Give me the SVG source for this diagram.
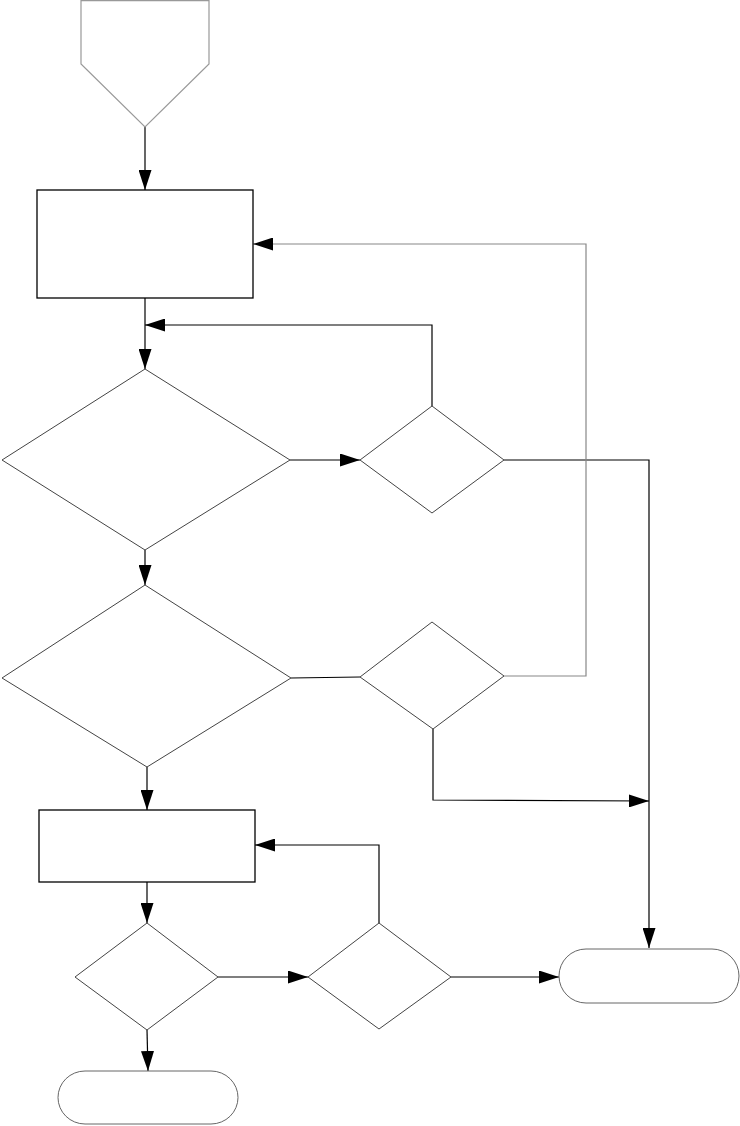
<svg xmlns="http://www.w3.org/2000/svg" width="740" height="1126" viewBox="0 0 740 1126">
<defs>
<marker id="ah" markerUnits="userSpaceOnUse" markerWidth="20" markerHeight="13" refX="20" refY="6.5" orient="auto">
<path d="M0,0 L20,6.5 L0,13 z" fill="#000"/>
</marker>
</defs>
<style>
.box{fill:#fff;stroke:#000;stroke-width:1.3}
.dia{fill:#fff;stroke:#444;stroke-width:1}
.term{fill:#fff;stroke:#666;stroke-width:1}
.pent{fill:#fff;stroke:#999;stroke-width:1.2}
.c{fill:none;stroke:#000;stroke-width:1.2}
.g{fill:none;stroke:#888;stroke-width:1.2}
.a{marker-end:url(#ah)}
</style>
<rect width="740" height="1126" fill="#fff"/>
<g id="connectors">
<path class="c a" d="M145,127 L145,190"/>
<path class="c a" d="M145,298 L145,369"/>
<path class="c a" d="M432,406 L432,325 L145,325"/>
<path class="c a" d="M290,460 L360,460"/>
<path class="c a" d="M504,460 L649,460 L649,948"/>
<path class="g a" d="M504,676 L586,676 L586,244 L253,244"/>
<path class="c a" d="M145,550 L145,585"/>
<path class="c" d="M291,678 L360,677"/>
<path class="c a" d="M433,729 L433,800 L649,801"/>
<path class="c a" d="M147,767 L147,810"/>
<path class="c a" d="M147,882 L147,923"/>
<path class="c a" d="M218,977 L308,977"/>
<path class="c a" d="M379,923 L379,845 L255,845"/>
<path class="c a" d="M451,977 L559,977"/>
<path class="c a" d="M147,1030 L148,1071"/>
</g>
<g id="start"><path class="pent" d="M81,0.6 L81,64 L145,127 L209,64 L209,0.6 z"/></g>
<g id="process1"><rect class="box" x="37" y="190" width="216" height="108"/></g>
<g id="decision1"><path class="dia" d="M145,369 L290,460 L145,550 L2,460 z"/></g>
<g id="decision2"><path class="dia" d="M432,406 L504,460 L432,513 L360,460 z"/></g>
<g id="decision3"><path class="dia" d="M145,585 L291,678 L147,767 L2,678 z"/></g>
<g id="decision4"><path class="dia" d="M432,622 L504,676 L433,729 L360,677 z"/></g>
<g id="process2"><rect class="box" x="39" y="810" width="216" height="72"/></g>
<g id="decision5"><path class="dia" d="M147,923 L218,977 L147,1030 L75,977 z"/></g>
<g id="decision6"><path class="dia" d="M379,923 L451,977 L379,1029 L308,977 z"/></g>
<g id="end1"><rect class="term" x="559" y="949" width="180" height="54" rx="27" ry="27"/></g>
<g id="end2"><rect class="term" x="58" y="1071" width="180" height="53" rx="27" ry="26.5"/></g>
</svg>
